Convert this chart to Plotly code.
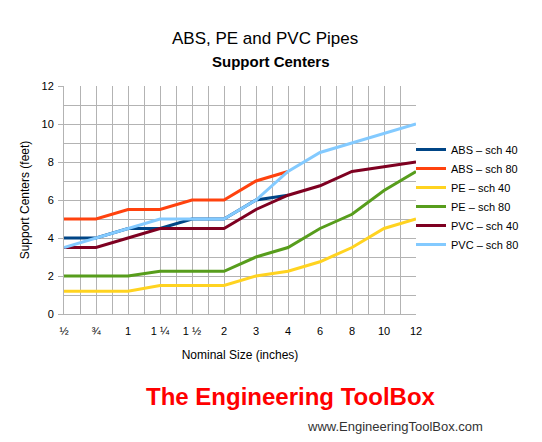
import plotly.graph_objs as go

sizes = ['½', '¾', '1', '1 ¼', '1 ½', '2', '3', '4', '6', '8', '10', '12']

abs_sch40 = [4, 4, 4.5, 4.5, 5, 5, 6, 6.25]
abs_sch80 = [5, 5, 5.5, 5.5, 6, 6, 7, 7.5]
pe_sch40 = [1.2, 1.2, 1.2, 1.5, 1.5, 1.5, 2, 2.25, 2.75, 3.5, 4.5, 5]
pe_sch80 = [2, 2, 2, 2.25, 2.25, 2.25, 3, 3.5, 4.5, 5.25, 6.5, 7.5]
pvc_sch40 = [3.5, 3.5, 4, 4.5, 4.5, 4.5, 5.5, 6.25, 6.75, 7.5, 7.75, 8]
pvc_sch80 = [3.5, 4, 4.5, 5, 5, 5, 6, 7.5, 8.5, 9, 9.5, 10]

series = [
    ('ABS – sch 40', abs_sch40, '#004586'),
    ('ABS – sch 80', abs_sch80, '#ff420e'),
    ('PE – sch 40', pe_sch40, '#ffd320'),
    ('PE – sch 80', pe_sch80, '#579d1c'),
    ('PVC – sch 40', pvc_sch40, '#7e0021'),
    ('PVC – sch 80', pvc_sch80, '#83caff'),
]

font = 'Liberation Sans, Arial, sans-serif'

# page body adds an 8px margin, so work in screen pixels and subtract it
OFF = 8
W, H = 542 - OFF, 442 - OFF
X0, X1, Y0, Y1 = 64, 416, 86, 314   # plot area on screen
L, T = X0 - OFF, Y0 - OFF
R, B = W - (X1 - OFF), H - (Y1 - OFF)

def px(x):
    return (x - X0) / (X1 - X0)

def py(y):
    return (Y1 - y) / (Y1 - Y0)

fig = go.Figure()
for name, vals, color in series:
    fig.add_trace(go.Scatter(x=list(range(len(vals))), y=vals, name=name, mode='lines',
                             line=dict(color=color, width=3)))

fig.update_layout(
    width=W, height=H,
    margin=dict(l=L, r=R, t=T, b=B, autoexpand=False),
    paper_bgcolor='white', plot_bgcolor='white',
    font=dict(family=font, size=11, color='black'),
    showlegend=True,
    legend=dict(x=px(411), y=py(197), xanchor='left', yanchor='middle',
                bgcolor='rgba(0,0,0,0)',
                font=dict(size=11), tracegroupgap=0, itemwidth=30),
)

fig.update_xaxes(
    range=[0, 11], tickvals=list(range(len(sizes))), ticktext=sizes,
    showgrid=True, gridcolor='#b3b3b3', gridwidth=1,
    minor=dict(dtick=0.5, tick0=0, showgrid=True, gridcolor='#b3b3b3'),
    showline=True, linecolor='#b3b3b3', zeroline=False, automargin=False,
    ticks='', tickfont=dict(size=11), ticklabelstandoff=7,
    title=dict(text='Nominal Size (inches)', font=dict(size=12), standoff=14),
)
fig.update_yaxes(
    range=[0, 12], dtick=2, tick0=0,
    showgrid=True, gridcolor='#b3b3b3', gridwidth=1,
    minor=dict(dtick=1, tick0=0, showgrid=True, gridcolor='#b3b3b3'),
    showline=True, linecolor='#b3b3b3', zeroline=False, automargin=False,
    ticks='outside', ticklen=5, tickcolor='#b3b3b3', tickfont=dict(size=11),
    ticklabelstandoff=2,
    title=dict(text='Support Centers (feet)', font=dict(size=12), standoff=9),
)

fig.add_annotation(text='ABS, PE and PVC Pipes', xref='paper', yref='paper',
                   x=px(265), y=py(38), xanchor='center', yanchor='middle',
                   showarrow=False, font=dict(size=17))
fig.add_annotation(text='<b>Support Centers</b>', xref='paper', yref='paper',
                   x=px(271), y=py(62), xanchor='center', yanchor='middle',
                   showarrow=False, font=dict(size=15))
fig.add_annotation(text='<b>The Engineering ToolBox</b>', xref='paper', yref='paper',
                   x=px(144), y=py(396), xanchor='left', yanchor='middle',
                   showarrow=False,
                   font=dict(family=font, size=24, color='#ff0000'))
fig.add_annotation(text='www.EngineeringToolBox.com', xref='paper', yref='paper',
                   x=px(305), y=py(426), xanchor='left', yanchor='middle',
                   showarrow=False, font=dict(size=13, color='#333333'))

fig.write_html("out.html")
